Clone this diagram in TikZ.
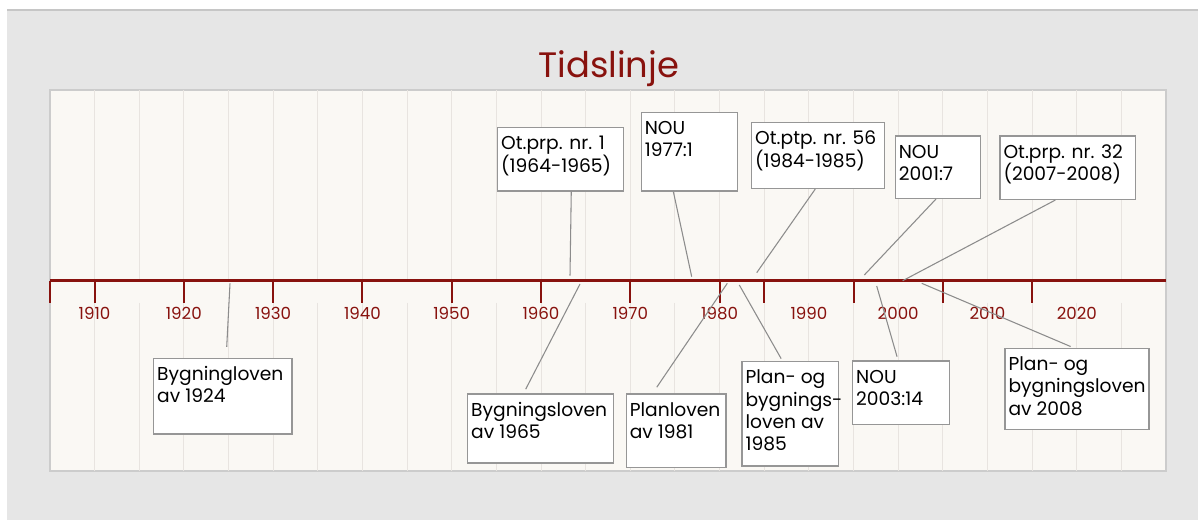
\documentclass[tikz,border=0pt]{standalone}
\usepackage{fontspec}
\setmainfont{Poppins}
\usetikzlibrary{calc, fit}
\definecolor{lineRed}{RGB}{136,18,14}
\definecolor{pageGray}{RGB}{230,230,230}
\definecolor{panelCream}{RGB}{250,248,244}
\definecolor{gridGray}{RGB}{232,228,224}
\definecolor{boxGray}{RGB}{150,150,150}
\definecolor{leaderGray}{RGB}{140,140,140}
\newcommand{\topstrut}{\rule{0pt}{12pt}}

\begin{document}
\begin{tikzpicture}[x=0.75pt, y=-0.75pt]
    \tikzset{
        note/.style={draw=boxGray, line width=1.1pt, fill=white, inner sep=0pt},
        notetext/.style={anchor=north west, inner sep=0pt, align=left, font=\fontsize{14}{16.8}\selectfont},
        leader/.style={draw=leaderGray, line width=0.8pt},
        year/.style={anchor=base, text=lineRed, font=\fontsize{12.5}{14}\selectfont},
        tick/.style={draw=lineRed, line width=1.5pt}
    }
    \useasboundingbox (0,0) rectangle (1198,520);
    % page and panel
    \fill[white] (0,0) rectangle (1198,520);
    \fill[pageGray] (7,10) rectangle (1198,520);
    \draw[gray!45, line width=0.8pt] (7,10) -- (1198,10);
    \draw[draw=gray!40, line width=0.8pt, fill=panelCream] (50,90) rectangle (1166,471);
    \foreach \yr in {1910,1915,...,2025} {
        \draw[gridGray, line width=0.75pt] ({94.5+(\yr-1910)*8.93},90) -- ({94.5+(\yr-1910)*8.93},280);
        \draw[gridGray, line width=0.75pt] ({94.5+(\yr-1910)*8.93},302.7) -- ({94.5+(\yr-1910)*8.93},471);
    }

    \node[anchor=base, text=lineRed, font=\fontsize{26.5}{32}\selectfont] (title) at (608.7,77.7) {Tidslinje};

    % axis
    \draw[draw=lineRed, line width=2.25pt] (50,280.7) -- (1166,280.7);
    \foreach \yr in {1905,1910,1920,...,1980,1985,1995,2005,2015}
        \draw[tick] ({94.5+(\yr-1910)*8.93},280.7) -- ({94.5+(\yr-1910)*8.93},302.7);
    \foreach \yr in {1910,1920,...,2020}
        \node[year] (lab\yr) at ({94.5+(\yr-1910)*8.93},319.3) {\yr};

    % boxes above the axis
    \node[note, fit={(497.7,127.7) (623.3,191)}] (ot1) {};
    \node[notetext] (ot1txt) at ($(ot1.north west)+(4,6.5)$) {\topstrut Ot.prp. nr. 1\\(1964-1965)};
    \node[note, fit={(641.3,112.3) (737.3,191)}] (nou77) {};
    \node[notetext] (nou77txt) at ($(nou77.north west)+(4,6.5)$) {\topstrut NOU\\1977:1};
    \node[note, fit={(751.7,122.7) (884.3,188.3)}] (ot56) {};
    \node[notetext] (ot56txt) at ($(ot56.north west)+(4,6.5)$) {\topstrut Ot.ptp. nr. 56\\(1984-1985)};
    \node[note, fit={(895.3,136) (980.3,198.3)}] (nou01) {};
    \node[notetext] (nou01txt) at ($(nou01.north west)+(4,6.5)$) {\topstrut NOU\\2001:7};
    \node[note, fit={(1000,136) (1135.7,199.3)}] (ot32) {};
    \node[notetext] (ot32txt) at ($(ot32.north west)+(4,6.5)$) {\topstrut Ot.prp. nr. 32\\(2007-2008)};

    % boxes below the axis
    \node[note, fit={(153.7,358.3) (292,434)}] (byg24) {};
    \node[notetext] (byg24txt) at ($(byg24.north west)+(4,6.5)$) {\topstrut Bygningloven\\av 1924};
    \node[note, fit={(467.7,394) (613.3,463)}] (byg65) {};
    \node[notetext] (byg65txt) at ($(byg65.north west)+(4,6.5)$) {\topstrut Bygningsloven\\av 1965};
    \node[note, fit={(626.3,394) (726,467.7)}] (plan81) {};
    \node[notetext] (plan81txt) at ($(plan81.north west)+(4,6.5)$) {\topstrut Planloven\\av 1981};
    \node[note, fit={(742,361.7) (838.3,466)}] (pbl85) {};
    \node[notetext] (pbl85txt) at ($(pbl85.north west)+(4,6.5)$) {\topstrut Plan- og\\bygnings-\\loven av\\1985};
    \node[note, fit={(852.7,361) (949.3,424.3)}] (nou03) {};
    \node[notetext] (nou03txt) at ($(nou03.north west)+(4,6.5)$) {\topstrut NOU\\2003:14};
    \node[note, fit={(1005,348.3) (1149,429.3)}] (pbl08) {};
    \node[notetext] (pbl08txt) at ($(pbl08.north west)+(4,6.5)$) {\topstrut Plan- og\\bygningsloven\\av 2008};

    % points on the axis
    \coordinate (a-ot1) at (570,275.7);
    \coordinate (a-nou77) at (691.7,276.7);
    \coordinate (a-ot56) at (756.7,272.7);
    \coordinate (a-nou01) at (864.3,275);
    \coordinate (a-ot32) at (902.7,280.7);
    \coordinate (a-byg24) at (230,283.3);
    \coordinate (a-byg65) at (580,284);
    \coordinate (a-plan81) at (727.3,283.3);
    \coordinate (a-pbl85) at (739.3,285);
    \coordinate (a-nou03) at (876.7,286);
    \coordinate (a-pbl08) at (921.7,283.3);

    % leader lines
    \draw[leader] ($(ot1.south west)+(74.3,0)$) -- (a-ot1);
    \draw[leader] ($(nou77.south west)+(32.8,0)$) -- (a-nou77);
    \draw[leader] ($(ot56.south west)+(64.3,0)$) -- (a-ot56);
    \draw[leader] ($(nou01.south west)+(41.4,0)$) -- (a-nou01);
    \draw[leader] ($(ot32.south west)+(56.1,0)$) -- (a-ot32);
    \draw[leader, shorten >=8pt] (a-byg24) -- ($(byg24.north west)+(73.2,0)$);
    \draw[leader, shorten >=3.5pt] (a-byg65) -- ($(byg65.north west)+(56.6,0)$);
    \draw[leader, shorten >=5.5pt] (a-plan81) -- ($(plan81.north west)+(27.1,0)$);
    \draw[leader, shorten >=2pt] (a-pbl85) -- ($(pbl85.north west)+(41.2,0)$);
    \draw[leader, shorten >=2.8pt] (a-nou03) -- ($(nou03.north west)+(46.1,0)$);
    \draw[leader, shorten >=2pt] (a-pbl08) -- ($(pbl08.north west)+(68.8,0)$);
\end{tikzpicture}
\end{document}
